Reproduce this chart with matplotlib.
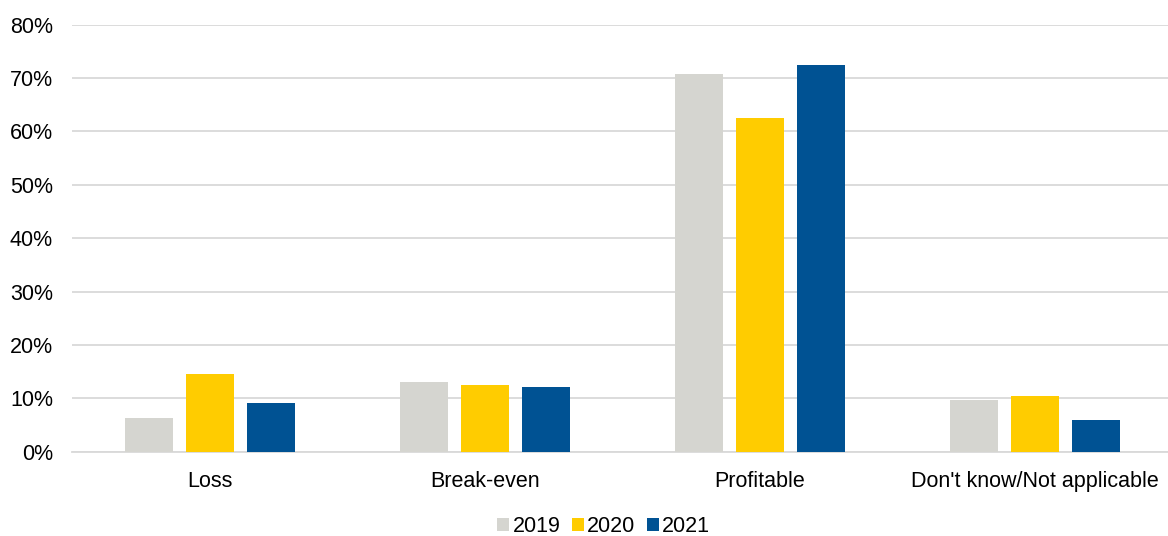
import matplotlib.pyplot as plt
import numpy as np
from matplotlib.ticker import PercentFormatter

plt.rcParams['font.family'] = ['Liberation Sans', 'DejaVu Sans']

categories = ['Loss', 'Break-even', 'Profitable', "Don't know/Not applicable"]
years = ['2019', '2020', '2021']
vals_2019 = [6.4, 13.0, 70.7, 9.7]
vals_2020 = [14.5, 12.5, 62.5, 10.4]
vals_2021 = [9.1, 12.2, 72.5, 6.0]
colors = ['#D5D5D0', '#FFCC00', '#005293']

fig = plt.figure(figsize=(11.68, 5.36), dpi=100)
ax = fig.add_axes([0.062, 0.157, 0.942, 0.797])

x = np.arange(len(categories))
width = 0.175
step = 0.222
for i, (vals, yr) in enumerate(zip([vals_2019, vals_2020, vals_2021], years)):
    ax.bar(x + (i - 1) * step, vals, width, color=colors[i], label=yr, zorder=3)

ax.set_xlim(-0.5, len(categories) - 0.5)
ax.set_ylim(0, 80)
ax.set_yticks(np.arange(0, 81, 10))
ax.yaxis.set_major_formatter(PercentFormatter(decimals=0))
ax.set_xticks(x)
ax.set_xticklabels(categories)
ax.grid(axis='y', color='#D9D9D9', linewidth=1.3, zorder=0)
for s in ['top', 'right', 'left']:
    ax.spines[s].set_visible(False)
ax.spines['bottom'].set_color('#D9D9D9')
ax.spines['bottom'].set_linewidth(1.3)
ax.tick_params(axis='both', length=0, labelsize=15.5, colors='#000000')
ax.tick_params(axis='x', pad=14)
ax.tick_params(axis='y', pad=14)

ax.legend(loc='center', bbox_to_anchor=(0.483, -0.175), ncol=3, frameon=False,
          fontsize=15.5, handlelength=0.55, handleheight=0.55, handletextpad=0.15,
          columnspacing=0.55, borderaxespad=0)

fig.savefig('out.png', dpi=100)
